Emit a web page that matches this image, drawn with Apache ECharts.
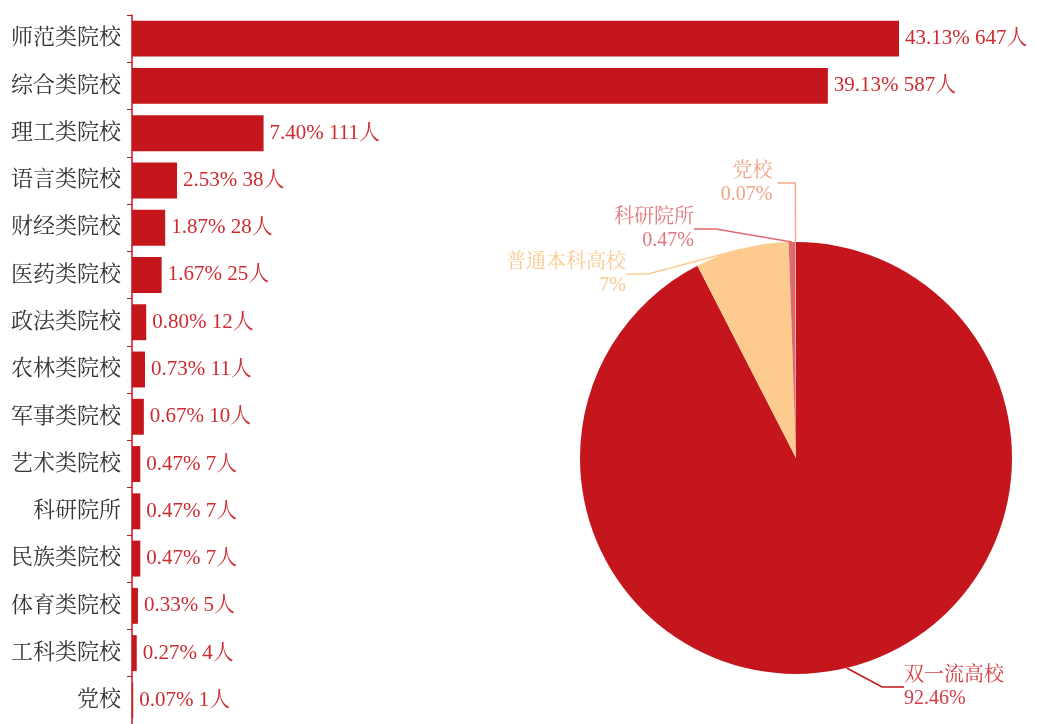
<!DOCTYPE html>
<html>
<head>
<meta charset="utf-8">
<script src="https://cdn.jsdelivr.net/npm/echarts@6/dist/echarts.min.js"></script>
<style>
  html, body { margin: 0; padding: 0; background: #ffffff; }
  #chart { width: 1037px; height: 724px; }
</style>
</head>
<body>
<div id="chart"></div>
<script>
// 院校类别（条形图）
const categories = ["师范类院校", "综合类院校", "理工类院校", "语言类院校", "财经类院校", "医药类院校",
  "政法类院校", "农林类院校", "军事类院校", "艺术类院校", "科研院所", "民族类院校",
  "体育类院校", "工科类院校", "党校"];
const counts = [647, 587, 111, 38, 28, 25, 12, 11, 10, 7, 7, 7, 5, 4, 1];
const percents = ["43.13", "39.13", "7.40", "2.53", "1.87", "1.67", "0.80", "0.73", "0.67",
  "0.47", "0.47", "0.47", "0.33", "0.27", "0.07"];

// 饼图
const pieNames = ["双一流高校", "普通本科高校", "科研院所", "党校"];
const pieValues = [92.46, 7, 0.47, 0.07];
const pieColors = ["#c4161c", "#fecb8f", "#e06a6e", "#f3a98a"];
const pieLabelColors = ["#d23c42", "#fdc98e", "#e2777b", "#f2a486"];
// 饼图标签摆放位置（样式），党校用默认的引导线
const pieLabelPos = [
  { x: 904, y: 687, align: "left" },
  { x: 626, y: 274, align: "right" },
  { x: 694, y: 229, align: "right" },
  null
];

const mainRed = "#c4161c";
const font = "'Liberation Serif', 'Noto Serif CJK SC', 'Noto Sans CJK SC', serif";

const chart = echarts.init(document.getElementById("chart"));
chart.setOption({
  backgroundColor: "#ffffff",
  textStyle: { fontFamily: font },
  grid: { left: 132, right: 138, top: 15, bottom: 0, containLabel: false },
  xAxis: {
    type: "value",
    min: 0,
    max: 647,
    show: false
  },
  yAxis: {
    type: "category",
    inverse: true,
    data: categories,
    axisLine: { show: true, lineStyle: { color: mainRed, width: 1.5 } },
    axisTick: { show: true, length: 5, lineStyle: { color: mainRed } },
    axisLabel: { color: "#333333", fontSize: 22, margin: 11, fontFamily: font }
  },
  series: [
    {
      type: "bar",
      data: counts,
      barCategoryGap: "24%",
      itemStyle: { color: mainRed },
      label: {
        show: true,
        position: "right",
        distance: 6,
        color: "#cc2b30",
        fontSize: 21,
        fontFamily: font,
        formatter: (p) => percents[p.dataIndex] + "% " + counts[p.dataIndex] + "人"
      }
    },
    {
      type: "pie",
      center: [796, 458],
      radius: [0, 216],
      startAngle: 90,
      clockwise: true,
      avoidLabelOverlap: false,
      data: pieNames.map((n, i) => ({
        name: n,
        value: pieValues[i],
        itemStyle: { color: pieColors[i] },
        label: { color: pieLabelColors[i] },
        labelLine: i === 3
          ? { length: 59, length2: 18, lineStyle: { color: pieColors[i] } }
          : { lineStyle: { color: pieColors[i] } }
      })),
      label: {
        show: true,
        fontSize: 20,
        lineHeight: 23,
        fontFamily: font,
        formatter: (p) => p.name + "\n" + p.value + "%"
      },
      labelLine: { show: true, length: 20, length2: 22, lineStyle: { width: 1.5 } },
      labelLayout: (params) => {
        const pos = pieLabelPos[params.dataIndex];
        if (!pos) return {};
        return { x: pos.x, y: pos.y, align: pos.align, verticalAlign: "middle" };
      }
    }
  ]
});
</script>
</body>
</html>
